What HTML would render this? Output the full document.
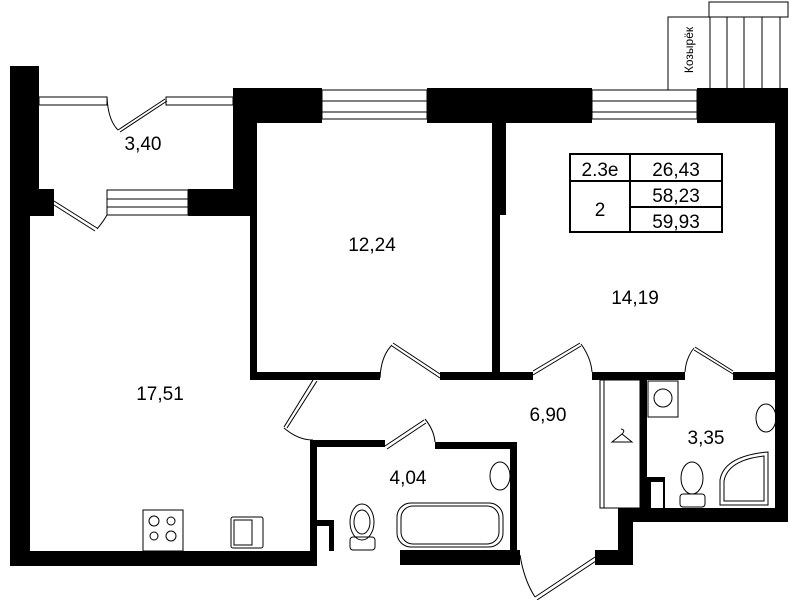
<!DOCTYPE html>
<html><head><meta charset="utf-8"><style>
html,body{margin:0;padding:0;background:#fff;}
svg{display:block;}
text{font-family:"Liberation Sans",sans-serif;fill:#000;}
</style></head><body>
<svg width="799" height="600" viewBox="0 0 799 600" xmlns="http://www.w3.org/2000/svg">
<rect width="799" height="600" fill="#fff"/>
<g fill="#000">
<!-- left outer wall -->
<rect x="10" y="66" width="29" height="150"/>
<rect x="10" y="189" width="44" height="27"/>
<rect x="10" y="189" width="20" height="377"/>
<!-- bottom wall -->
<rect x="10" y="551" width="307" height="15"/>
<!-- kitchen-balcony block -->
<rect x="188" y="189" width="69" height="27"/>
<rect x="233" y="88" width="24" height="128"/>
<rect x="233" y="88" width="89" height="35"/>
<rect x="250" y="120" width="7" height="259"/>
<!-- top middle block -->
<rect x="427" y="88" width="165" height="35"/>
<rect x="492" y="120" width="14" height="95"/>
<rect x="492" y="120" width="8" height="260"/>
<!-- top right block -->
<rect x="697" y="88" width="91" height="35"/>
<rect x="775" y="88" width="13" height="434"/>
<!-- bedroom1 bottom -->
<rect x="250" y="372" width="130" height="8"/>
<rect x="440" y="372" width="93" height="8"/>
<rect x="592" y="372" width="93" height="8"/>
<rect x="733" y="372" width="55" height="8"/>
<!-- bathroom 4.04 walls -->
<rect x="310" y="440" width="75" height="7"/>
<rect x="310" y="440" width="7" height="126"/>
<rect x="435" y="442" width="82" height="7"/>
<rect x="510" y="442" width="7" height="123"/>
<rect x="400" y="550" width="120" height="15"/>
<rect x="310" y="520" width="24" height="31"/>
<!-- entrance & right bottom -->
<rect x="595" y="550" width="38" height="15"/>
<rect x="618" y="508" width="15" height="57"/>
<rect x="618" y="508" width="170" height="14"/>
<rect x="640" y="380" width="7" height="128"/>
<rect x="647" y="477" width="18" height="31"/>
</g>
<g fill="#fff">
<rect x="317" y="526" width="12" height="25"/>
<rect x="651" y="482" width="12" height="26"/>
</g>
<g fill="none" stroke="#000" stroke-width="1">
<!-- balcony rails -->
<rect x="39" y="97" width="68" height="8"/>
<rect x="166" y="97" width="67" height="8"/>
<path d="M118 130 L165 99 M120 132 L167 101"/>
<path d="M107 97 Q108 120 118 130"/>
<!-- kitchen balcony window -->
<rect x="107" y="190" width="81" height="25"/>
<path d="M107 199 H188 M107 207 H188"/>
<path d="M54 201 L97 228 M54 205 L95 231"/>
<path d="M97 229 Q103 222 107 215"/>
<!-- bedroom1 window -->
<rect x="322" y="90" width="105" height="29"/>
<path d="M322 101 H427 M322 112 H427"/>
<!-- bedroom2 window -->
<rect x="592" y="90" width="105" height="29"/>
<path d="M592 101 H697 M592 112 H697"/>
<!-- kozyrek -->
<path d="M668 90 V17 H710"/>
<rect x="709" y="2" width="79" height="15"/>
<path d="M710 17 V88 M727 17 V88 M744 17 V88 M762 17 V88 M780 17 V88"/>
<!-- doors -->
<path d="M440 378 L392 346 M440 374 L393 343"/>
<path d="M380 378 Q381 356 392 345"/>
<path d="M313 380 L284 427 M317 381 L287 428"/>
<path d="M284 428 Q298 440 313 440"/>
<path d="M385 446 L424 420 M387 449 L426 423"/>
<path d="M425 419 Q434 430 435 442"/>
<path d="M533 375 L581 346 M533 371 L580 343"/>
<path d="M581 344 Q591 358 592 372"/>
<path d="M733 374 L694 350 M733 371 L695 347"/>
<path d="M694 348 Q686 358 685 372"/>
<path d="M535 597 L595 557 M537 600 L596 561"/>
<path d="M520 555 Q524 580 535 597"/>
<!-- closet -->
<rect x="600" y="380" width="40" height="128"/>
<path d="M604 380 V508"/>
<path d="M612 442 L622 434 L632 442 Z M622 434 Q626 430 621 429"/>
<!-- bath 3.35 -->
<rect x="648" y="381" width="30" height="36"/>
<circle cx="663" cy="398" r="9"/>
<ellipse cx="766" cy="418" rx="10" ry="14"/>
<ellipse cx="692" cy="478" rx="11" ry="16"/>
<rect x="680" y="494" width="25" height="13" rx="3"/>
<path d="M720 505 V480 Q724 456 768 452 V505 Z"/>
<path d="M724 501 V481 Q728 460 764 456 V501 Z"/>
<!-- bath 4.04 -->
<ellipse cx="500" cy="476" rx="10" ry="14"/>
<rect x="397" y="503" width="106" height="44" rx="14"/>
<rect x="401" y="506" width="98" height="38" rx="12"/>
<ellipse cx="362" cy="522" rx="12" ry="18"/>
<ellipse cx="362" cy="522" rx="8" ry="12"/>
<rect x="350" y="537" width="25" height="13" rx="3"/>
<!-- kitchen -->
<rect x="143" y="510" width="40" height="41"/>
<circle cx="154" cy="521" r="5"/><circle cx="171" cy="521" r="4"/>
<circle cx="154" cy="536" r="4"/><circle cx="171" cy="536" r="5"/>
<rect x="231" y="517" width="32" height="31" rx="2"/>
<rect x="234" y="520" width="18" height="25"/>
<!-- table -->
<rect x="570" y="154" width="152" height="78" stroke-width="2"/>
<path d="M630 154 V232 M570 181 H722 M630 207 H722" stroke-width="2"/>
</g>
<g font-size="19" text-anchor="middle">
<text x="143" y="150">3,40</text>
<text x="372" y="251">12,24</text>
<text x="635" y="304">14,19</text>
<text x="160" y="400">17,51</text>
<text x="548" y="421">6,90</text>
<text x="408" y="484">4,04</text>
<text x="706" y="444">3,35</text>
<text x="600" y="176">2.3е</text>
<text x="676" y="176">26,43</text>
<text x="600" y="216">2</text>
<text x="676" y="202">58,23</text>
<text x="676" y="228">59,93</text>
</g>
<text x="0" y="0" font-size="12" text-anchor="middle" transform="translate(693,50) rotate(-90)">Козырёк</text>
</svg>
</body></html>
